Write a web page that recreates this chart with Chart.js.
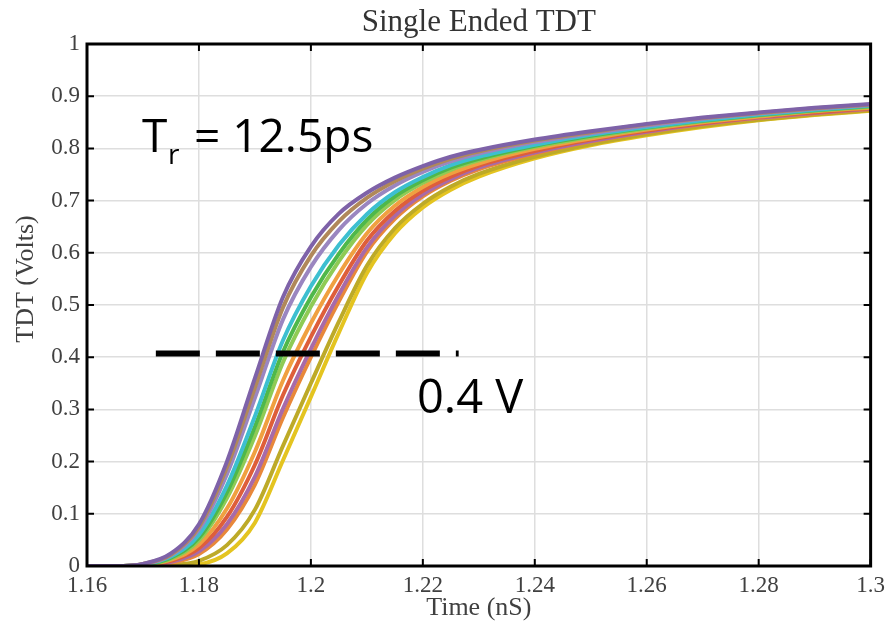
<!DOCTYPE html>
<html>
<head>
<meta charset="utf-8">
<script src="https://cdn.jsdelivr.net/npm/chart.js@4/dist/chart.umd.min.js"></script>
<style>
html,body{margin:0;padding:0;background:#ffffff;}
canvas{display:block;}
</style>
</head>
<body>
<canvas id="c" width="891" height="633"></canvas>
<script>
// ---------- data ----------
const times = [1.16, 1.165, 1.17, 1.175, 1.18, 1.185, 1.19, 1.195, 1.2, 1.205, 1.21, 1.215, 1.22, 1.225, 1.23, 1.24, 1.25, 1.26, 1.27, 1.28, 1.29, 1.3];

const sPurple     = [0, 0, 0.004, 0.024, 0.080, 0.200, 0.360, 0.515, 0.612, 0.675, 0.715, 0.744, 0.766, 0.784, 0.797, 0.817, 0.833, 0.847, 0.859, 0.869, 0.878, 0.885];
const sTan        = [0, 0, 0.004, 0.022, 0.075, 0.189, 0.342, 0.495, 0.594, 0.660, 0.705, 0.737, 0.761, 0.780, 0.794, 0.815, 0.831, 0.846, 0.858, 0.868, 0.877, 0.884];
const sLavender   = [0, 0, 0.003, 0.021, 0.070, 0.176, 0.322, 0.472, 0.573, 0.644, 0.694, 0.729, 0.755, 0.775, 0.790, 0.812, 0.829, 0.844, 0.857, 0.867, 0.876, 0.883];
const sCyan       = [0, 0, 0.003, 0.018, 0.060, 0.154, 0.287, 0.432, 0.536, 0.615, 0.674, 0.716, 0.745, 0.768, 0.784, 0.807, 0.826, 0.841, 0.854, 0.865, 0.874, 0.882];
const sGreen      = [0, 0, 0.003, 0.016, 0.054, 0.141, 0.267, 0.410, 0.515, 0.598, 0.663, 0.708, 0.739, 0.763, 0.780, 0.805, 0.824, 0.840, 0.853, 0.864, 0.873, 0.881];
const sLightGreen = [0, 0, 0.002, 0.014, 0.049, 0.130, 0.249, 0.390, 0.497, 0.584, 0.653, 0.701, 0.734, 0.759, 0.777, 0.803, 0.822, 0.838, 0.852, 0.863, 0.872, 0.880];
const sOrange     = [0, 0, 0.002, 0.012, 0.041, 0.110, 0.219, 0.355, 0.465, 0.559, 0.637, 0.690, 0.726, 0.752, 0.771, 0.799, 0.819, 0.836, 0.850, 0.861, 0.871, 0.878];
const sRed        = [0, 0, 0.001, 0.010, 0.034, 0.094, 0.194, 0.327, 0.439, 0.538, 0.623, 0.680, 0.719, 0.746, 0.767, 0.795, 0.817, 0.834, 0.848, 0.860, 0.869, 0.877];
const sMagenta    = [0, 0, 0.001, 0.008, 0.028, 0.080, 0.171, 0.301, 0.416, 0.520, 0.610, 0.671, 0.712, 0.741, 0.763, 0.792, 0.814, 0.832, 0.847, 0.859, 0.868, 0.876];
const sOrange2    = [0, 0, 0.001, 0.006, 0.023, 0.070, 0.156, 0.284, 0.400, 0.507, 0.602, 0.665, 0.708, 0.738, 0.760, 0.790, 0.813, 0.831, 0.846, 0.858, 0.867, 0.875];
const sOlive      = [0, 0, 0, 0.002, 0.010, 0.040, 0.108, 0.230, 0.350, 0.468, 0.575, 0.647, 0.694, 0.727, 0.751, 0.784, 0.808, 0.827, 0.843, 0.855, 0.865, 0.873];
const sYellow     = [0, 0, 0, 0, 0.003, 0.024, 0.083, 0.202, 0.324, 0.447, 0.561, 0.637, 0.687, 0.721, 0.746, 0.781, 0.806, 0.825, 0.841, 0.854, 0.864, 0.872];

const thresholdTimes = [1.1723, 1.2264];
const thresholdVolts = [0.407, 0.407];

const xTickValues = [1.16, 1.18, 1.2, 1.22, 1.24, 1.26, 1.28, 1.3];
const yTickValues = [0, 0.1, 0.2, 0.3, 0.4, 0.5, 0.6, 0.7, 0.8, 0.9, 1];

const chartTitle = 'Single Ended TDT';
const xAxisTitle = 'Time (nS)';
const yAxisTitle = 'TDT (Volts)';
const riseLabelMain = 'T';
const riseLabelSub = 'r';
const riseLabelRest = '= 12.5ps';
const thresholdLabel = '0.4 V';

// ---------- build datasets ----------
const curves = [
  [sPurple, '#7E62A8'],
  [sTan, '#B0885A'],
  [sLavender, '#9A86C0'],
  [sCyan, '#3DBFD0'],
  [sGreen, '#4FB84A'],
  [sLightGreen, '#8FCB55'],
  [sOrange, '#F0A040'],
  [sRed, '#DE5E3A'],
  [sMagenta, '#A86AA8'],
  [sOrange2, '#E8883A'],
  [sOlive, '#BDAA28'],
  [sYellow, '#E4C420']
];

const datasets = curves.map(([vals, col]) => ({
  data: times.map((t, i) => ({x: t, y: vals[i]})),
  borderColor: col,
  borderWidth: 4,
  pointRadius: 0,
  cubicInterpolationMode: 'monotone',
  fill: false
}));

datasets.push({
  data: thresholdTimes.map((t, i) => ({x: t, y: thresholdVolts[i]})),
  borderColor: '#000000',
  borderWidth: 6,
  borderDash: [44, 16],
  borderCapStyle: 'butt',
  pointRadius: 0,
  tension: 0,
  order: -1,
  fill: false
});

const decor = {
  id: 'decor',
  afterDatasetsDraw(chart) {
    const {ctx, chartArea: a, scales: {x, y}} = chart;
    ctx.save();
    // box
    ctx.strokeStyle = '#000';
    ctx.lineWidth = 3;
    ctx.strokeRect(a.left, a.top, a.right - a.left, a.bottom - a.top);
    // inward tick marks
    ctx.lineWidth = 2;
    ctx.beginPath();
    xTickValues.forEach(v => {
      const px = x.getPixelForValue(v);
      ctx.moveTo(px, a.bottom); ctx.lineTo(px, a.bottom - 7);
      ctx.moveTo(px, a.top); ctx.lineTo(px, a.top + 7);
    });
    yTickValues.forEach(v => {
      const py = y.getPixelForValue(v);
      ctx.moveTo(a.left, py); ctx.lineTo(a.left + 7, py);
      ctx.moveTo(a.right, py); ctx.lineTo(a.right - 7, py);
    });
    ctx.stroke();

    // annotations
    ctx.fillStyle = '#000';
    ctx.textAlign = 'left';
    ctx.textBaseline = 'alphabetic';
    ctx.font = '46px "Open Sans"';
    ctx.fillText(riseLabelMain, 142, 152);
    ctx.fillText(riseLabelRest, 194, 152);
    ctx.font = '28px "Open Sans"';
    ctx.fillText(riseLabelSub, 168, 164);
    ctx.font = '47px "Open Sans"';
    ctx.fillText(thresholdLabel, 417, 413);

    // y axis title
    ctx.translate(26, 279);
    ctx.rotate(-Math.PI / 2);
    ctx.textAlign = 'center';
    ctx.textBaseline = 'middle';
    ctx.fillStyle = '#404040';
    ctx.font = '26px "Liberation Serif"';
    ctx.fillText(yAxisTitle, 0, 0);
    ctx.restore();
  }
};

const tickFont = {family: '"Liberation Serif", serif', size: 23};

new Chart(document.getElementById('c'), {
  type: 'line',
  data: {datasets},
  plugins: [decor],
  options: {
    responsive: false,
    animation: false,
    layout: {padding: {left: 0, right: 18, top: 0, bottom: 0}},
    plugins: {
      legend: {display: false},
      tooltip: {enabled: false},
      title: {
        display: true,
        fullSize: false,
        text: chartTitle,
        color: '#333333',
        font: {family: '"Liberation Serif", serif', size: 31, weight: 'normal'},
        padding: {top: 4, bottom: 2.8}
      }
    },
    scales: {
      x: {
        type: 'linear',
        min: 1.16,
        max: 1.3,
        afterBuildTicks: s => { s.ticks = xTickValues.map(v => ({value: v})); },
        afterFit: s => { s.height = 67; },
        ticks: {
          callback: v => String(Number(v.toFixed(2))),
          color: '#404040',
          font: tickFont,
          padding: 6,
          maxRotation: 0,
          autoSkip: false
        },
        grid: {color: '#dedede', lineWidth: 1.5, drawTicks: false},
        border: {display: false},
        title: {
          display: true,
          text: xAxisTitle,
          color: '#404040',
          font: {family: '"Liberation Serif", serif', size: 26},
          padding: {top: 0, bottom: 9}
        }
      },
      y: {
        type: 'linear',
        min: 0,
        max: 1,
        afterBuildTicks: s => { s.ticks = yTickValues.map(v => ({value: v})); },
        afterFit: s => { s.width = 87; },
        ticks: {
          callback: v => String(Number(v.toFixed(2))),
          color: '#404040',
          font: tickFont,
          padding: 7,
          autoSkip: false
        },
        grid: {color: '#dedede', lineWidth: 1.5, drawTicks: false},
        border: {display: false}
      }
    }
  }
});
</script>
</body>
</html>
